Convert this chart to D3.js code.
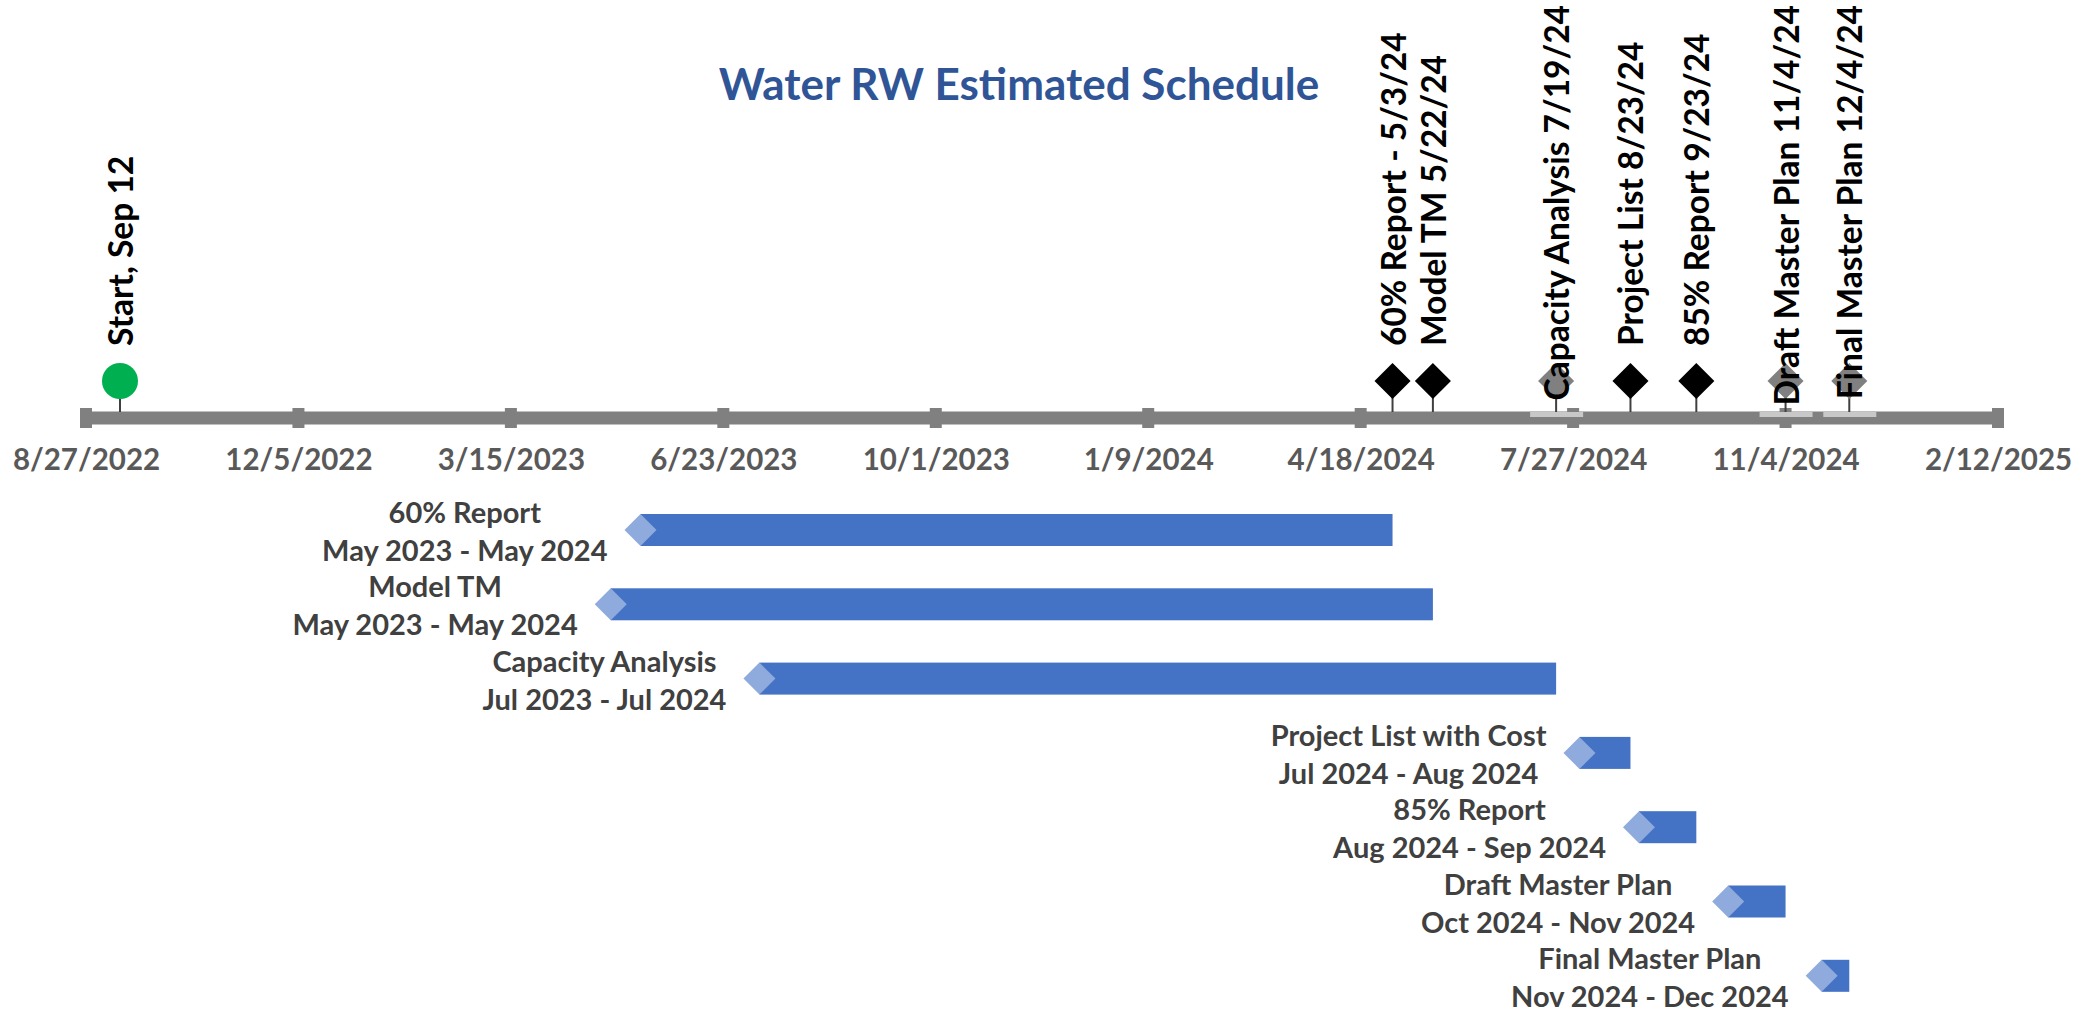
<!DOCTYPE html>
<html>
<head>
<meta charset="utf-8">
<script src="https://cdn.jsdelivr.net/npm/d3@7"></script>
<style>
  body { margin: 0; background: #fff; }
  #chart text { font-family: Lato, "Open Sans", sans-serif; font-weight: bold; }
</style>
</head>
<body>
<div id="chart"></div>
<script>
// ---- data ----
const chartTitle = "Water RW Estimated Schedule";
const tickDates = ["8/27/2022", "12/5/2022", "3/15/2023", "6/23/2023", "10/1/2023",
                   "1/9/2024", "4/18/2024", "7/27/2024", "11/4/2024", "2/12/2025"];
const startName = "Start, Sep 12";
const startDate = "9/12/2022";
const milestoneNames = ["60% Report - 5/3/24", "Model TM 5/22/24", "Capacity Analysis 7/19/24",
                        "Project List 8/23/24", "85% Report 9/23/24", "Draft Master Plan 11/4/24",
                        "Final Master Plan 12/4/24"];
const milestoneDates = ["5/3/2024", "5/22/2024", "7/19/2024", "8/23/2024", "9/23/2024", "11/4/2024", "12/4/2024"];
const taskNames = ["60% Report", "Model TM", "Capacity Analysis", "Project List with Cost",
                   "85% Report", "Draft Master Plan", "Final Master Plan"];
const taskRanges = ["May 2023 - May 2024", "May 2023 - May 2024", "Jul 2023 - Jul 2024",
                    "Jul 2024 - Aug 2024", "Aug 2024 - Sep 2024", "Oct 2024 - Nov 2024",
                    "Nov 2024 - Dec 2024"];
const taskStarts = ["5/15/2023", "5/1/2023", "7/10/2023", "7/30/2024", "8/27/2024", "10/8/2024", "11/21/2024"];
const taskEnds = milestoneDates;

(function () {
    "use strict";
    const width = 2080, height = 1013,
          axisY = 418, markY = 381, labelBottom = 346, labelTop = 5,
          rowY0 = 530, rowStep = 74.3, barH = 32,
          parse = d3.utcParse("%m/%d/%Y");

    const x = d3.scaleUtc()
        .domain([parse(tickDates[0]), parse(tickDates[tickDates.length - 1])])
        .range([86, 1998]);

    const svg = d3.select("#chart").append("svg")
        .attr("width", width)
        .attr("height", height);

    // title
    svg.append("text")
        .attr("x", 1019)
        .attr("y", 100)
        .attr("text-anchor", "middle")
        .style("font-size", "44px")
        .style("fill", "#2F5597")
        .text(chartTitle);

    // timeline bar with square ticks
    const axisG = svg.append("g");
    axisG.append("rect")
        .attr("x", x.range()[0] - 6)
        .attr("y", axisY - 6.5)
        .attr("width", x.range()[1] - x.range()[0] + 12)
        .attr("height", 13)
        .attr("fill", "#808080");
    axisG.selectAll("rect.tk")
        .data(tickDates)
        .enter().append("rect")
        .attr("class", "tk")
        .attr("x", d => x(parse(d)) - 6)
        .attr("y", axisY - 10)
        .attr("width", 12)
        .attr("height", 20)
        .attr("fill", "#808080");

    const axis = d3.axisBottom(x)
        .tickValues(tickDates.map(parse))
        .tickFormat(d3.utcFormat("%-m/%-d/%Y"))
        .tickSize(0)
        .tickPadding(31);
    svg.append("g")
        .attr("transform", "translate(0," + axisY + ")")
        .call(axis)
        .call(g => g.select(".domain").remove())
        .selectAll("text")
        .style("font-size", "29.5px")
        .style("fill", "#595959");

    // milestones
    const ms = milestoneNames.map((n, i) => ({name: n, date: parse(milestoneDates[i])}));
    const stemG = svg.append("g"),
          hiG = svg.append("g"),
          markG = svg.append("g"),
          labG = svg.append("g");

    const labels = labG.selectAll("text")
        .data(ms)
        .enter().append("text")
        .attr("dominant-baseline", "central")
        .style("font-size", "33.5px")
        .style("fill", "#000")
        .text(d => d.name)
        .each(function (d) {
            d.len = this.getComputedTextLength();
            d.top = labelBottom - d.len < labelTop;   // too long -> hang it from the top edge
        });
    labels.attr("text-anchor", d => d.top ? "end" : "start")
        .attr("transform", d => "translate(" + x(d.date) + "," + (d.top ? labelTop : labelBottom) + ") rotate(-90)");

    stemG.selectAll("line")
        .data(ms)
        .enter().append("line")
        .attr("x1", d => x(d.date))
        .attr("x2", d => x(d.date))
        .attr("y1", markY)
        .attr("y2", axisY - 6)
        .attr("stroke", "#404040")
        .attr("stroke-width", 2);

    hiG.selectAll("rect")
        .data(ms.filter(d => d.top))
        .enter().append("rect")
        .attr("x", d => x(d.date) - 26)
        .attr("y", axisY - 6)
        .attr("width", 53)
        .attr("height", 5)
        .attr("fill", "#C8C8C8");

    const diamond = d3.symbol().type(d3.symbolSquare).size(650);
    markG.selectAll("path")
        .data(ms)
        .enter().append("path")
        .attr("d", diamond)
        .attr("transform", d => "translate(" + x(d.date) + "," + markY + ") rotate(45)")
        .attr("fill", d => d.top ? "#808080" : "#000");

    // start point
    const sx = x(parse(startDate));
    stemG.append("line")
        .attr("x1", sx).attr("x2", sx)
        .attr("y1", markY).attr("y2", axisY - 6)
        .attr("stroke", "#404040")
        .attr("stroke-width", 2);
    markG.append("circle")
        .attr("cx", sx)
        .attr("cy", markY)
        .attr("r", 18)
        .attr("fill", "#00B050");
    labG.append("text")
        .attr("dominant-baseline", "central")
        .attr("transform", "translate(" + sx + "," + labelBottom + ") rotate(-90)")
        .style("font-size", "33.5px")
        .style("fill", "#000")
        .text(startName);

    // gantt rows
    const tasks = taskNames.map((n, i) => ({
        name: n, range: taskRanges[i],
        start: parse(taskStarts[i]), end: parse(taskEnds[i]),
        y: rowY0 + i * rowStep
    }));
    const rowG = svg.append("g");
    rowG.selectAll("rect")
        .data(tasks)
        .enter().append("rect")
        .attr("x", d => x(d.start))
        .attr("y", d => d.y - barH / 2)
        .attr("width", d => x(d.end) - x(d.start))
        .attr("height", barH)
        .attr("fill", "#4472C4");
    const small = d3.symbol().type(d3.symbolSquare).size(barH * barH / 2);
    rowG.selectAll("path")
        .data(tasks)
        .enter().append("path")
        .attr("d", small)
        .attr("transform", d => "translate(" + x(d.start) + "," + d.y + ") rotate(45)")
        .attr("fill", "#8FAADC");

    const rowLab = rowG.selectAll("text")
        .data(tasks)
        .enter().append("text")
        .attr("text-anchor", "middle")
        .style("font-size", "29px")
        .style("fill", "#404040");
    rowLab.append("tspan").attr("class", "l1").text(d => d.name);
    rowLab.append("tspan").attr("class", "l2").text(d => d.range);
    rowLab.each(function (d) {
        const el = d3.select(this);
        let w = 0;
        el.selectAll("tspan").each(function () { w = Math.max(w, this.getComputedTextLength()); });
        const cx = x(d.start) - barH / 2 - 17 - w / 2;
        el.selectAll("tspan").attr("x", cx);
        el.select(".l1").attr("y", d.y - 7);
        el.select(".l2").attr("y", d.y + 31);
    });
})();
</script>
</body>
</html>
